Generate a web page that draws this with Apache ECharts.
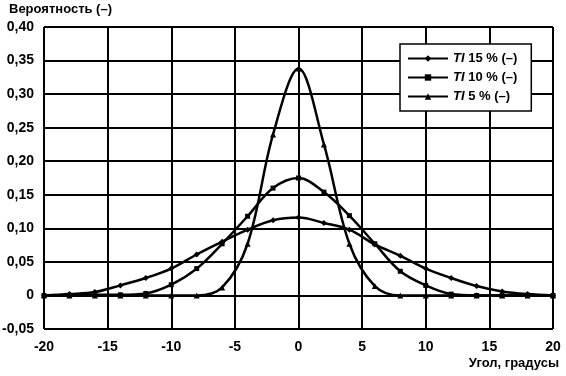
<!DOCTYPE html>
<html>
<head>
<meta charset="utf-8">
<script src="https://cdn.jsdelivr.net/npm/echarts@6/dist/echarts.min.js"></script>
<style>
  html, body { margin: 0; padding: 0; background: #fff; }
  #main { width: 566px; height: 376px; }
</style>
</head>
<body>
<div id="main"></div>
<script>
var angles = [-20, -18, -16, -14, -12, -10, -8, -6, -4, -2, 0, 2, 4, 6, 8, 10, 12, 14, 16, 18, 20];
// TI 15 % (diamonds)
var ti15 = [0, 0.002, 0.005, 0.015, 0.026, 0.040, 0.061, 0.080, 0.098, 0.112, 0.116, 0.108, 0.098, 0.076, 0.059, 0.040, 0.026, 0.014, 0.006, 0.002, 0];
// TI 10 % (squares)
var ti10 = [0, 0, 0.001, 0.001, 0.003, 0.016, 0.040, 0.077, 0.118, 0.160, 0.175, 0.154, 0.119, 0.077, 0.036, 0.015, 0.002, 0, 0, 0, 0];
// TI 5 % (triangles)
var ti5 = [0, 0, 0, 0, 0, 0, 0, 0.012, 0.077, 0.240, 0.338, 0.225, 0.077, 0.014, 0, 0, 0, 0, 0, 0, 0];

var names = ['{i|TI} 15 % (–)', '{i|TI} 10 % (–)', '{i|TI} 5 % (–)'];

function pairs(arr) {
    return angles.map(function (a, i) { return [a, arr[i]]; });
}

var font = 'Liberation Sans, Arial, sans-serif';
var myChart = echarts.init(document.getElementById('main'));

function makeSeries(name, data, symbol, size) {
    return {
        name: name,
        type: 'line',
        smooth: 0.35,
        data: pairs(data),
        symbol: symbol,
        symbolSize: size,
        showAllSymbol: true,
        lineStyle: { color: '#000', width: 2.5 },
        itemStyle: { color: '#000' },
        z: 3
    };
}

var option = {
    animation: false,
    backgroundColor: '#fff',
    textStyle: { fontFamily: font },
    title: [
        {
            text: 'Вероятность (–)', left: 9, top: 3, padding: 0,
            textStyle: { fontSize: 13, fontWeight: 'bold', color: '#000', fontFamily: font }
        },
        {
            text: 'Угол, градусы', right: 7, top: 357, padding: 0,
            textStyle: { fontSize: 13, fontWeight: 'bold', color: '#000', fontFamily: font }
        }
    ],
    grid: { left: 44, right: 13, top: 27, bottom: 47, outerBoundsMode: 'none', containLabel: false },
    legend: {
        left: 400, top: 44,
        orient: 'vertical',
        backgroundColor: '#fff',
        borderColor: '#000',
        borderWidth: 1.5,
        borderRadius: 0,
        padding: [8, 14, 8, 7],
        itemGap: 6,
        itemWidth: 40,
        itemHeight: 8,
        data: names,
        textStyle: {
            fontFamily: font, fontSize: 13, fontWeight: 'bold', color: '#000',
            rich: { i: { fontStyle: 'italic', fontWeight: 'bold', fontSize: 13, fontFamily: font } }
        }
    },
    xAxis: {
        type: 'value',
        min: -20, max: 20, interval: 5,
        axisLine: { lineStyle: { color: '#000', width: 2 } },
        axisTick: { show: true, length: 7, lineStyle: { color: '#000', width: 2 } },
        axisLabel: { color: '#000', fontSize: 14, fontWeight: 'bold', margin: 11 },
        splitLine: { show: true, lineStyle: { color: '#000', width: 2 } }
    },
    yAxis: {
        type: 'value',
        min: -0.05, max: 0.40, interval: 0.05,
        axisLine: { show: true, lineStyle: { color: '#000', width: 2 } },
        axisTick: { show: true, length: 8, lineStyle: { color: '#000', width: 2 } },
        axisLabel: {
            color: '#000', fontSize: 14, fontWeight: 'bold', margin: 10,
            formatter: function (v) {
                if (Math.abs(v) < 1e-9) return '0';
                return v.toFixed(2).replace('.', ',');
            }
        },
        splitLine: { show: true, lineStyle: { color: '#000', width: 2 } }
    },
    series: [
        makeSeries(names[0], ti15, 'diamond', 6),
        makeSeries(names[1], ti10, 'rect', 5),
        makeSeries(names[2], ti5, 'triangle', 6)
    ]
};

myChart.setOption(option);
</script>
</body>
</html>
